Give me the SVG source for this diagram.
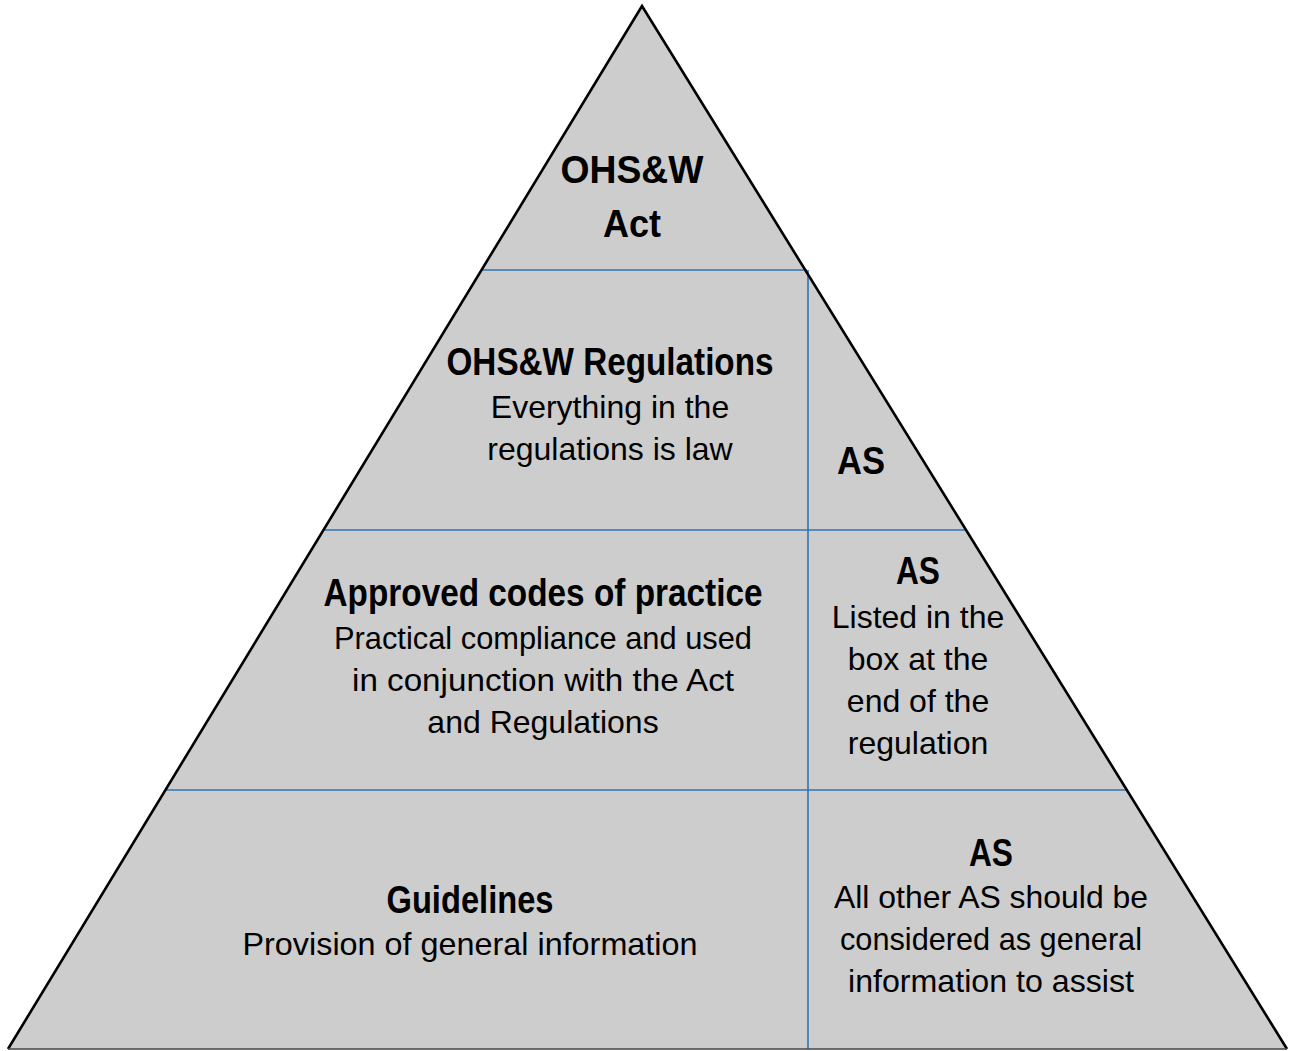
<svg xmlns="http://www.w3.org/2000/svg" width="1289" height="1051" viewBox="0 0 1289 1051">
<style>
.b{font-family:"Liberation Sans",Arial,sans-serif;font-weight:bold;font-size:38px;fill:#000;text-anchor:middle}
.r{font-family:"Liberation Sans",Arial,sans-serif;font-size:32px;fill:#000;text-anchor:middle}
.div{stroke:#2f75b5;stroke-width:1.6;fill:none}
</style>
<rect width="1289" height="1051" fill="#fff"/>
<g id="pyramid">
<polygon points="642,6 1287,1049 8,1049" fill="#cdcdcd"/>
</g>
<g id="connectors">
<line class="div" x1="481" y1="270" x2="807" y2="270"/>
<line class="div" x1="324" y1="530" x2="966" y2="530"/>
<line class="div" x1="166" y1="790" x2="1127" y2="790"/>
<line class="div" x1="808" y1="270" x2="808" y2="1049"/>
</g>
<g id="outline">
<polyline points="8,1049 642,6 1287,1049" fill="none" stroke="#000" stroke-width="2.6" stroke-linejoin="miter"/>
<line x1="8" y1="1049" x2="1287" y2="1049" stroke="#444" stroke-width="1.6"/>
</g>
<g id="act">
<text class="b" x="632" y="183" font-size="41" textLength="143" lengthAdjust="spacingAndGlyphs">OHS&amp;W</text>
<text class="b" x="632" y="237" font-size="41" textLength="58" lengthAdjust="spacingAndGlyphs">Act</text>
</g>
<g id="regulations">
<text class="b" x="610" y="375" textLength="327" lengthAdjust="spacingAndGlyphs">OHS&amp;W Regulations</text>
<text class="r" x="610" y="418">Everything in the</text>
<text class="r" x="610" y="460">regulations is law</text>
</g>
<g id="as-regulations">
<text class="b" x="861" y="474" textLength="48" lengthAdjust="spacingAndGlyphs">AS</text>
</g>
<g id="codes">
<text class="b" x="543" y="606" textLength="439" lengthAdjust="spacingAndGlyphs">Approved codes of practice</text>
<text class="r" x="543" y="649" textLength="418" lengthAdjust="spacingAndGlyphs">Practical compliance and used</text>
<text class="r" x="543" y="691" textLength="382" lengthAdjust="spacingAndGlyphs">in conjunction with the Act</text>
<text class="r" x="543" y="733">and Regulations</text>
</g>
<g id="as-codes">
<text class="b" x="918" y="584" textLength="44" lengthAdjust="spacingAndGlyphs">AS</text>
<text class="r" x="918" y="628">Listed in the</text>
<text class="r" x="918" y="670">box at the</text>
<text class="r" x="918" y="712">end of the</text>
<text class="r" x="918" y="754">regulation</text>
</g>
<g id="guidelines">
<text class="b" x="470" y="913" textLength="167" lengthAdjust="spacingAndGlyphs">Guidelines</text>
<text class="r" x="470" y="955" textLength="455" lengthAdjust="spacingAndGlyphs">Provision of general information</text>
</g>
<g id="as-other">
<text class="b" x="991" y="866" textLength="44" lengthAdjust="spacingAndGlyphs">AS</text>
<text class="r" x="991" y="908" textLength="314" lengthAdjust="spacingAndGlyphs">All other AS should be</text>
<text class="r" x="991" y="950" textLength="302" lengthAdjust="spacingAndGlyphs">considered as general</text>
<text class="r" x="991" y="992" textLength="286" lengthAdjust="spacingAndGlyphs">information to assist</text>
</g>
</svg>
